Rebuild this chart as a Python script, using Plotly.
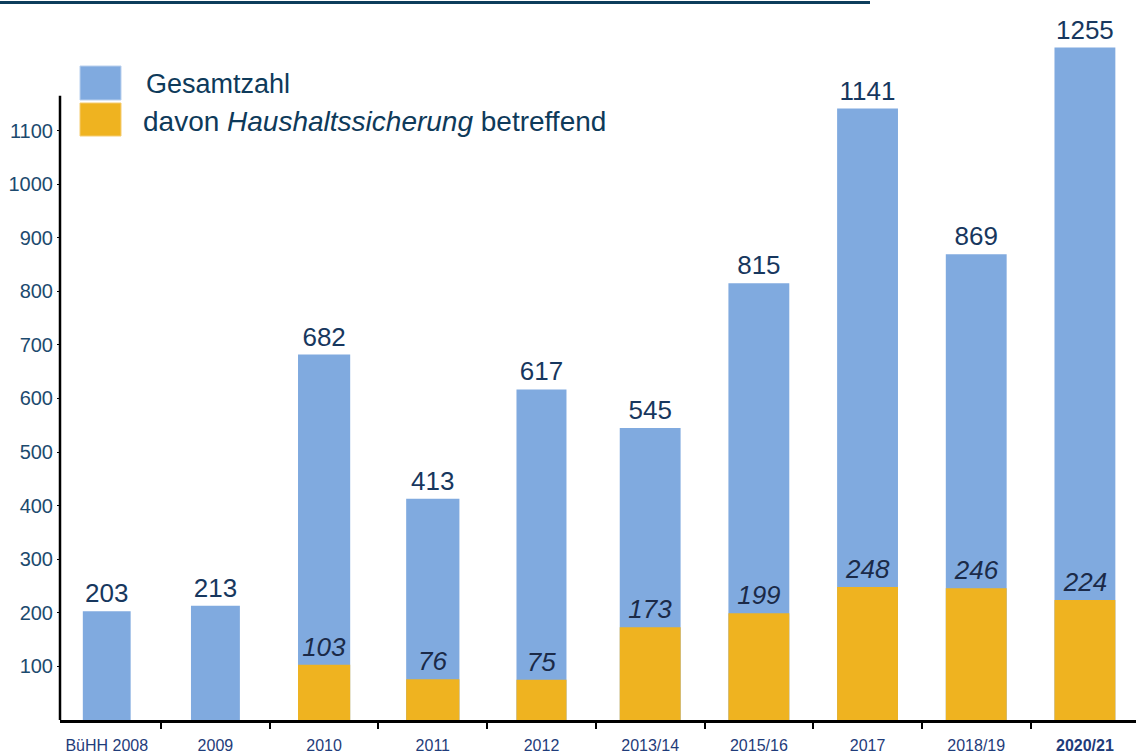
import plotly.graph_objects as go

categories = ["BüHH 2008", "2009", "2010", "2011", "2012", "2013/14", "2015/16", "2017", "2018/19", "2020/21"]
tick_labels = ["BüHH 2008", "2009", "2010", "2011", "2012", "2013/14", "2015/16", "2017", "2018/19", "<b>2020/21</b>"]
gesamtzahl = [203, 213, 682, 413, 617, 545, 815, 1141, 869, 1255]
haushaltssicherung = [None, None, 103, 76, 75, 173, 199, 248, 246, 224]
y_ticks = [100, 200, 300, 400, 500, 600, 700, 800, 900, 1000, 1100]

# styling
BLUE = "#80AADF"
ORANGE = "#EFB320"
NAVY = "#17375E"
BAR_WIDTHS = [0.44, 0.45, 0.48, 0.49, 0.46, 0.56, 0.56, 0.56, 0.56, 0.56]
FONT = "Liberation Sans, Arial, sans-serif"

W, H = 1136, 756
ML, MR, MT, MB = 60, 0, 10, 36
PW, PH = W - ML - MR, H - MT - MB


def px_x(p):
    return (p - ML) / PW


def px_y(p):
    return (H - MB - p) / PH


fig = go.Figure()
fig.add_trace(go.Bar(
    x=categories, y=gesamtzahl, name="Gesamtzahl",
    marker=dict(color=BLUE, line=dict(width=0)), width=BAR_WIDTHS,
    text=[str(v) for v in gesamtzahl], textposition="outside",
    textfont=dict(size=26, color=NAVY, family=FONT),
    cliponaxis=False, showlegend=False,
))
fig.add_trace(go.Bar(
    x=categories, y=haushaltssicherung, name="davon Haushaltssicherung betreffend",
    marker=dict(color=ORANGE, line=dict(width=0)), width=BAR_WIDTHS,
    text=["" if v is None else f"<i>{v}</i>" for v in haushaltssicherung], textposition="outside",
    textfont=dict(size=26, color="#1B2A48", family=FONT),
    cliponaxis=False, showlegend=False,
))

shapes = [
    # decorative top rule
    dict(type="line", xref="paper", yref="paper", x0=px_x(0), x1=px_x(870), y0=px_y(2.5), y1=px_y(2.5),
         line=dict(color="#0D3D5C", width=3)),
    # y axis line (shorter than plot area)
    dict(type="line", xref="paper", yref="y", x0=0, x1=0, y0=0, y1=1165,
         line=dict(color="black", width=2.5)),
    # legend swatches
    dict(type="rect", xref="paper", yref="paper", x0=px_x(80), x1=px_x(121), y0=px_y(100), y1=px_y(66),
         fillcolor=BLUE, line=dict(color="#B9D0EE", width=1)),
    dict(type="rect", xref="paper", yref="paper", x0=px_x(80), x1=px_x(121), y0=px_y(136), y1=px_y(103),
         fillcolor=ORANGE, line=dict(color="#F5CC70", width=1)),
]

annotations = [
    dict(xref="paper", yref="paper", x=px_x(144), y=px_y(84), xanchor="left", yanchor="middle",
         text="Gesamtzahl", showarrow=False, font=dict(size=27, color="#0E3A5A", family=FONT)),
    dict(xref="paper", yref="paper", x=px_x(141), y=px_y(121), xanchor="left", yanchor="middle",
         text="davon <i>Haushaltssicherung</i> betreffend", showarrow=False,
         font=dict(size=28, color="#0E3A5A", family=FONT)),
]

fig.update_layout(
    width=W, height=H,
    margin=dict(l=ML, r=MR, t=MT, b=MB),
    barmode="overlay",
    bargap=0.5,
    plot_bgcolor="white", paper_bgcolor="white",
    shapes=shapes, annotations=annotations,
    font=dict(family=FONT),
    xaxis=dict(
        type="category", range=[-0.43, 9.47],
        tickmode="array", tickvals=categories, ticktext=tick_labels,
        tickson="boundaries", ticks="outside", ticklen=6, tickwidth=2, tickcolor="black",
        showline=True, linecolor="black", linewidth=3,
        showgrid=False, zeroline=False,
        tickfont=dict(size=16, color="#1F3C7A", family=FONT),
        ticklabelstandoff=9,
    ),
    yaxis=dict(
        range=[0, 1325],
        tickmode="array", tickvals=y_ticks, ticktext=[str(t) for t in y_ticks],
        ticks="outside", ticklen=2, tickwidth=1, tickcolor="black",
        showline=False, showgrid=False, zeroline=False,
        tickfont=dict(size=20, color="#1C4A6E", family=FONT),
        ticklabelstandoff=0,
    ),
)

fig.write_html("out.html", config={"displayModeBar": False},
               post_script="document.body.style.margin='0';")
